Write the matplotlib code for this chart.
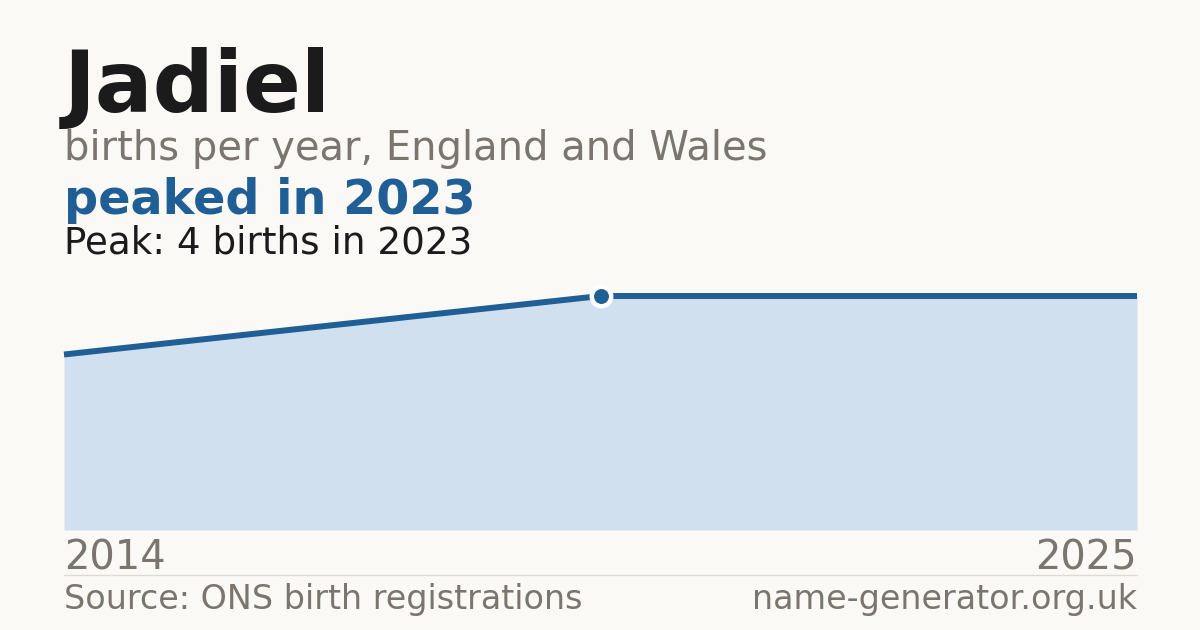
import matplotlib
matplotlib.use("Agg")
import matplotlib.pyplot as plt
from matplotlib import font_manager

# Data
name = "Jadiel"
years = [2014, 2023, 2025]
births = [3, 4, 4]
peak_year = 2023
peak_value = 4

BG = "#faf9f5"
DARK = "#1b1b1b"
GREY = "#7a756e"
BLUE = "#1f5f96"
FILL = "#d0e0ef"

plt.rcParams['font.family'] = ['DejaVu Sans']
FP = font_manager.FontProperties(family='DejaVu Sans')
FPB = font_manager.FontProperties(family='DejaVu Sans', weight='bold')

W, H = 1200, 630
fig = plt.figure(figsize=(W / 100, H / 100), dpi=100, facecolor=BG)

def fx(px):
    return px / W

def fy(py):
    return 1 - py / H

left, right = 64, 1137
base_y, top_y = 530, 296
ax = fig.add_axes([fx(left), fy(base_y), (right - left) / W, (base_y - top_y) / H])
ax.patch.set_alpha(0)
xs = list(range(len(years)))
ax.set_xlim(xs[0], xs[-1])
ax.set_ylim(0, max(births))
ax.fill_between(xs, births, 0, color=FILL, lw=0, zorder=1)
ax.plot(xs, births, color=BLUE, lw=4.3, solid_capstyle='butt', solid_joinstyle='miter',
        zorder=3, clip_on=False)

peak_idx = years.index(peak_year)
ax.plot([xs[peak_idx]], [births[peak_idx]], 'o', ms=14, mfc=BLUE, mec='#ffffff',
        mew=3.2, zorder=5, clip_on=False)
ax.axis('off')

def txt(x, y, s, size, color, bold=False, ha='left'):
    fp = (FPB if bold else FP).copy()
    fp.set_size(size)
    fig.text(fx(x), fy(y), s, fontproperties=fp, color=color, va='baseline', ha=ha)

txt(64, 112, name, 61.6, DARK, bold=True)
txt(64, 160, "births per year, England and Wales", 28.8, GREY)
txt(64, 214, f"peaked in {peak_year}", 34.4, BLUE, bold=True)
txt(64, 253, f"Peak: {peak_value} births in {peak_year}", 26.8, DARK)

txt(64, 569, str(years[0]), 28.8, GREY)
txt(1137, 569, str(years[-1]), 28.8, GREY, ha='right')

fig.add_artist(plt.Line2D([fx(64), fx(1137)], [fy(574.5), fy(574.5)], color="#dedbd5", lw=1,
                          transform=fig.transFigure))

txt(64, 609, "Source: ONS birth registrations", 24.0, GREY)
txt(1137, 609, "name-generator.org.uk", 24.0, GREY, ha='right')

fig.savefig("out.png", dpi=100, facecolor=BG)
